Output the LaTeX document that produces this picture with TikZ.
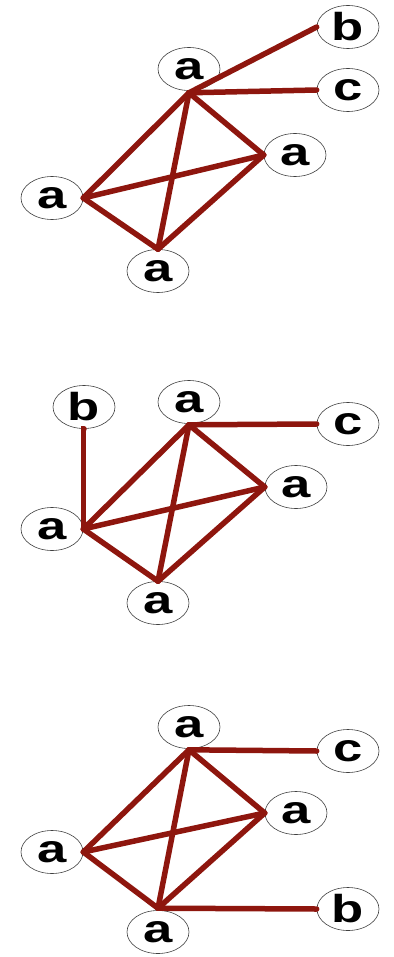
\documentclass[tikz,border=0pt]{standalone}
\usepackage{fontspec}
\usepackage{graphicx}
\setmainfont{Liberation Sans}
\usetikzlibrary{shapes.geometric}
\definecolor{edgered}{RGB}{142,22,14}
\newcommand{\wlbl}[1]{\scalebox{1.35}[1]{#1}}
\tikzset{
  vtx/.style={ellipse, draw=black!75, line width=0.6pt, fill=white, minimum width=62pt, minimum height=43pt, inner sep=0pt, font=\fontsize{39}{39}\selectfont\bfseries},
  edg/.style={draw=edgered, line width=5.5pt, line cap=round}
}
\begin{document}
\begin{tikzpicture}[x=1pt,y=-1pt]
\useasboundingbox (0,0) rectangle (393,957);
% graph 1
\node[vtx] (t1) at (189,69) {\wlbl{a}};
\node[vtx] (b1) at (348,27) {\wlbl{b}};
\node[vtx] (c1) at (348,90) {\wlbl{c}};
\node[vtx] (r1) at (295,155) {\wlbl{a}};
\node[vtx] (l1) at (52,198) {\wlbl{a}};
\node[vtx] (d1) at (158,271) {\wlbl{a}};
\coordinate (h1) at ([yshift=-2pt]t1.south);
\draw[edg] (h1) -- (b1.west);
\draw[edg] (h1) -- (c1.west);
\draw[edg] (h1) -- (r1.west);
\draw[edg] (h1) -- (l1.east);
\draw[edg] (h1) -- (d1.north);
\draw[edg] (l1.east) -- (r1.west);
\draw[edg] (l1.east) -- (d1.north);
\draw[edg] (r1.west) -- (d1.north);
% graph 2
\node[vtx] (b2) at (84,407) {\wlbl{b}};
\node[vtx] (t2) at (189,402) {\wlbl{a}};
\node[vtx] (c2) at (348,424) {\wlbl{c}};
\node[vtx] (r2) at (296,487) {\wlbl{a}};
\node[vtx] (l2) at (52,529) {\wlbl{a}};
\node[vtx] (d2) at (158,603) {\wlbl{a}};
\coordinate (h2) at ([yshift=-1pt]t2.south);
\draw[edg] (b2.south) -- (l2.east |- b2.south) -- (l2.east);
\draw[edg] (h2) -- (c2.west);
\draw[edg] (h2) -- (r2.west);
\draw[edg] (h2) -- (l2.east);
\draw[edg] (h2) -- (d2.north);
\draw[edg] (l2.east) -- (r2.west);
\draw[edg] (l2.east) -- (d2.north);
\draw[edg] (r2.west) -- (d2.north);
% graph 3
\node[vtx] (t3) at (189,727) {\wlbl{a}};
\node[vtx] (c3) at (348,751) {\wlbl{c}};
\node[vtx] (r3) at (296,813) {\wlbl{a}};
\node[vtx] (l3) at (52,852) {\wlbl{a}};
\node[vtx] (d3) at (158,932) {\wlbl{a}};
\node[vtx] (b3) at (348,909) {\wlbl{b}};
\coordinate (h3) at ([yshift=-1pt]t3.south);
\coordinate (k3) at ([yshift=2pt]d3.north);
\draw[edg] (h3) -- (c3.west);
\draw[edg] (h3) -- (r3.west);
\draw[edg] (h3) -- (l3.east);
\draw[edg] (h3) -- (k3);
\draw[edg] (l3.east) -- (r3.west);
\draw[edg] (l3.east) -- (k3);
\draw[edg] (r3.west) -- (k3);
\draw[edg] (k3) -- (b3.west);
\end{tikzpicture}
\end{document}
